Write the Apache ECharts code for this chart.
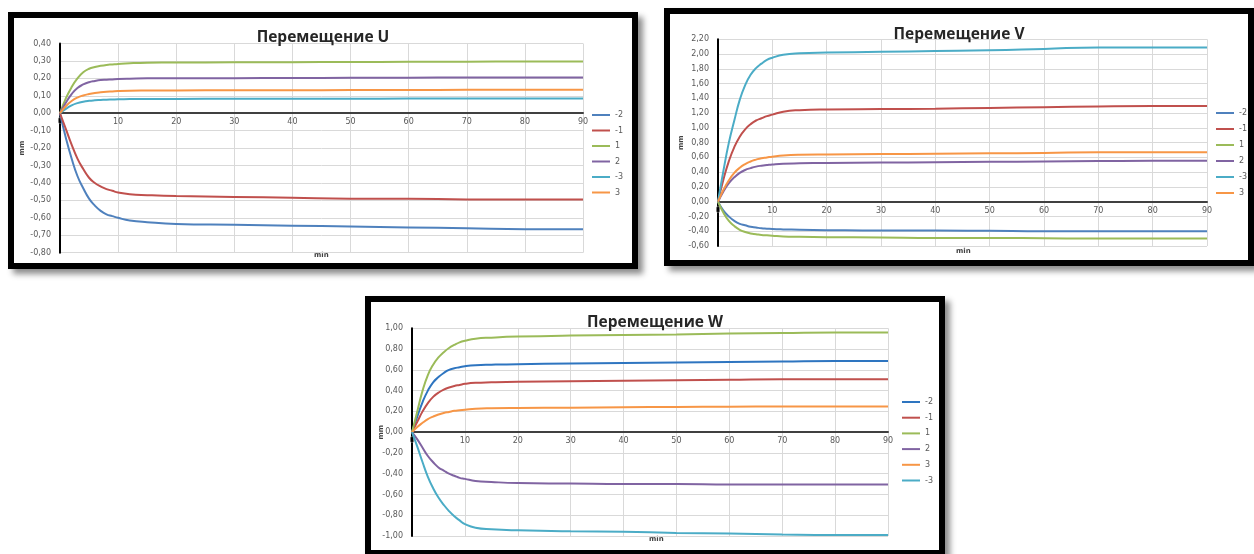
<!DOCTYPE html>
<html><head><meta charset="utf-8">
<script src="https://cdn.jsdelivr.net/npm/echarts@6/dist/echarts.min.js"></script>
<style>
html,body{margin:0;padding:0;background:#fff;width:1254px;height:554px;overflow:hidden;}
.box{position:absolute;box-sizing:border-box;border:6px solid #000;background:#fff;box-shadow:5px 5px 6px rgba(0,0,0,0.45);}
.box div.c{width:100%;height:100%;}
</style></head><body>
<div class="box" id="bU" style="left:8px;top:12px;width:630px;height:257px;"><div class="c" id="cU"></div></div>
<div class="box" id="bV" style="left:664px;top:8px;width:590px;height:258px;"><div class="c" id="cV"></div></div>
<div class="box" id="bW" style="left:365px;top:296px;width:580px;height:260px;"><div class="c" id="cW"></div></div>
<script>
// time axis (min)
const time = [0,1,2,3,4,5,6,7,8,9,10,12,15,20,30,40,50,60,70,80,90];

// Перемещение U
const uTitle = 'Перемещение U';
const uNames = ['-2','-1','1','2','-3','3'];
const uM2 = [0,-0.14,-0.26,-0.36,-0.43,-0.49,-0.53,-0.56,-0.58,-0.59,-0.60,-0.615,-0.625,-0.635,-0.64,-0.645,-0.65,-0.655,-0.66,-0.665,-0.665];
const uM1 = [0,-0.09,-0.18,-0.26,-0.32,-0.37,-0.40,-0.42,-0.435,-0.445,-0.455,-0.465,-0.47,-0.475,-0.48,-0.485,-0.49,-0.49,-0.495,-0.495,-0.495];
const uP1 = [0,0.085,0.15,0.20,0.235,0.255,0.265,0.272,0.277,0.28,0.283,0.287,0.29,0.291,0.292,0.293,0.294,0.295,0.296,0.297,0.297];
const uP2 = [0,0.06,0.11,0.145,0.165,0.178,0.185,0.19,0.192,0.194,0.196,0.198,0.20,0.20,0.201,0.202,0.203,0.204,0.205,0.205,0.205];
const uM3 = [0,0.025,0.045,0.058,0.066,0.071,0.074,0.076,0.078,0.079,0.08,0.081,0.082,0.082,0.083,0.083,0.083,0.084,0.084,0.084,0.084];
const uP3 = [0,0.04,0.07,0.09,0.102,0.11,0.116,0.12,0.123,0.125,0.127,0.129,0.13,0.131,0.132,0.132,0.133,0.133,0.134,0.134,0.134];
const uTicks = {min:-0.8, max:0.4, interval:0.1};

// Перемещение V
const vTitle = 'Перемещение V';
const vNames = ['-2','-1','1','2','-3','3'];
const vM2 = [0,-0.12,-0.20,-0.26,-0.30,-0.32,-0.34,-0.35,-0.36,-0.365,-0.37,-0.375,-0.38,-0.385,-0.39,-0.39,-0.395,-0.40,-0.40,-0.40,-0.40];
const vM1 = [0,0.30,0.55,0.74,0.88,0.98,1.05,1.10,1.13,1.16,1.18,1.22,1.24,1.25,1.255,1.26,1.27,1.28,1.29,1.295,1.295];
const vP1 = [0,-0.15,-0.26,-0.33,-0.38,-0.41,-0.43,-0.44,-0.45,-0.455,-0.46,-0.47,-0.475,-0.48,-0.485,-0.49,-0.49,-0.495,-0.50,-0.50,-0.50];
const vP2 = [0,0.14,0.25,0.33,0.39,0.43,0.455,0.475,0.488,0.497,0.505,0.515,0.52,0.525,0.53,0.535,0.54,0.545,0.55,0.555,0.555];
const vM3 = [0,0.42,0.80,1.10,1.38,1.58,1.72,1.81,1.87,1.92,1.95,1.99,2.01,2.02,2.03,2.04,2.05,2.07,2.09,2.09,2.09];
const vP3 = [0,0.16,0.29,0.39,0.46,0.51,0.545,0.57,0.59,0.60,0.61,0.625,0.635,0.64,0.645,0.65,0.655,0.66,0.67,0.67,0.67];
const vTicks = {min:-0.6, max:2.2, interval:0.2};

// Перемещение W
const wTitle = 'Перемещение W';
const wNames = ['-2','-1','1','2','3','-3'];
const wM2 = [0,0.15,0.29,0.40,0.48,0.53,0.57,0.60,0.615,0.625,0.635,0.645,0.65,0.655,0.66,0.665,0.67,0.675,0.68,0.685,0.685];
const wM1 = [0,0.10,0.20,0.28,0.34,0.38,0.41,0.43,0.445,0.455,0.465,0.475,0.48,0.485,0.49,0.495,0.50,0.505,0.51,0.51,0.51];
const wP1 = [0,0.20,0.40,0.55,0.65,0.72,0.77,0.81,0.84,0.865,0.88,0.90,0.91,0.92,0.93,0.935,0.94,0.95,0.955,0.96,0.96];
const wP2 = [0,-0.07,-0.15,-0.23,-0.29,-0.34,-0.37,-0.40,-0.42,-0.44,-0.45,-0.47,-0.48,-0.49,-0.495,-0.50,-0.50,-0.505,-0.505,-0.505,-0.505];
const wP3 = [0,0.05,0.09,0.125,0.15,0.17,0.185,0.195,0.205,0.21,0.215,0.225,0.23,0.233,0.236,0.24,0.242,0.245,0.247,0.248,0.248];
const wM3 = [0,-0.14,-0.29,-0.43,-0.54,-0.63,-0.70,-0.76,-0.81,-0.85,-0.885,-0.92,-0.935,-0.945,-0.955,-0.96,-0.97,-0.975,-0.985,-0.99,-0.99];
const wTicks = {min:-1, max:1, interval:0.2};

const xTicks = {min:0, max:90, interval:10};
const xName = 'min';
const yName = 'mm';

const C = {blue:'#4F81BD', red:'#C0504D', green:'#9BBB59', purple:'#8064A2', cyan:'#4BACC6', orange:'#F79646'};

function build(el, title, names, datas, colors, yt, lay){
  const chart = echarts.init(document.getElementById(el), null, {renderer:'canvas'});
  const lab = {fontFamily:'DejaVu Sans', fontSize:8, color:'#595959'};
  const series = names.map((n,i)=>({
    name:n, type:'line', showSymbol:false, symbol:'none',
    smooth:0.5,
    data: time.map((t,k)=>[t, datas[i][k]]),
    lineStyle:{width:2, color:colors[i]}, itemStyle:{color:colors[i]},
    z:3
  }));
  chart.setOption({
    animation:false,
    title:{text:title, left:'center', top:lay.titleTop,
      textStyle:{fontFamily:'Open Sans', fontWeight:'bold', fontSize:15.5, color:'#262626'}},
    grid:{left:lay.left, right:lay.right, top:lay.top, bottom:lay.bottom, containLabel:false, outerBoundsMode:'none'},
    legend:{orient:'vertical', left:lay.legLeft, top:lay.legTop, icon:'rect', padding:0,
      itemWidth:18, itemHeight:2, itemGap:lay.legGap,
      textStyle:{fontFamily:'DejaVu Sans', fontSize:8, color:'#595959', lineHeight:10},
      data:names},
    xAxis:{type:'value', min:xTicks.min, max:xTicks.max, interval:xTicks.interval,
      axisLine:{onZero:false, lineStyle:{color:'#404040', width:2}},
      axisTick:{show:false},
      axisLabel:Object.assign({margin:5, showMinLabel:true, showMaxLabel:true}, lab),
      splitLine:{show:true, lineStyle:{color:'#D9D9D9', width:1}}},
    yAxis:{type:'value', min:yt.min, max:yt.max, interval:yt.interval,
      name:yName, nameLocation:'middle', nameRotate:90, nameGap:lay.nameGap, nameMoveOverlap:false,
      nameTextStyle:{fontFamily:'DejaVu Sans', fontSize:7, fontWeight:'bold', color:'#404040'},
      axisLine:{show:true, onZero:false, lineStyle:{color:'#000', width:2}},
      axisTick:{show:false},
      axisLabel:Object.assign({margin:9, formatter:v=>v.toFixed(2).replace('.',',')}, lab),
      splitLine:{show:true, lineStyle:{color:'#D9D9D9', width:1}}},
    graphic:[{type:'text', left:lay.minX, top:lay.minY,
      style:{text:xName, font:'bold 7px DejaVu Sans', fill:'#404040'}}],
    series:series
  });
  // move the x axis (line + labels) up to the zero level of the value axis
  const y0 = chart.convertToPixel({yAxisIndex:0}, 0);
  const yb = chart.convertToPixel({yAxisIndex:0}, yt.min);
  chart.setOption({xAxis:{offset:-(yb - y0)}});
}

build('cU', uTitle, uNames, [uM2,uM1,uP1,uP2,uM3,uP3],
  [C.blue,C.red,C.green,C.purple,C.cyan,C.orange], uTicks,
  {left:46, right:49, top:25.5, bottom:10.3, titleTop:7, legLeft:578, legTop:92, legGap:5.5, nameGap:34, minX:300, minY:234});
build('cV', vTitle, vNames, [vM2,vM1,vP1,vP2,vM3,vP3],
  [C.blue,C.red,C.green,C.purple,C.cyan,C.orange], vTicks,
  {left:48, right:41, top:25.3, bottom:14, titleTop:8, legLeft:546, legTop:94, legGap:6, nameGap:33, minX:286, minY:234});
build('cW', wTitle, wNames, [wM2,wM1,wP1,wP2,wP3,wM3],
  ['#2E75C0',C.red,C.green,C.purple,C.orange,C.cyan], wTicks,
  {left:41, right:51, top:26.3, bottom:14, titleTop:8, legLeft:531, legTop:95, legGap:5.7, nameGap:27, minX:278, minY:234});
</script>
</body></html>
